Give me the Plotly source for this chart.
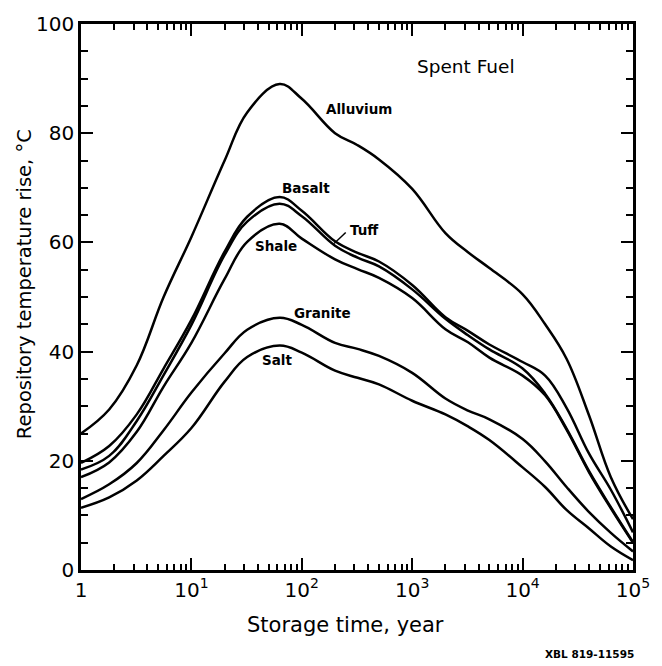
import math
import plotly.graph_objects as go

# Storage time (years), log axis
years = [1, 1.8, 3.2, 5.6, 10, 20, 32, 63, 100, 200, 320, 500,
         1000, 2000, 3200, 5000, 10000, 16000, 25000, 40000, 63000, 100000]

alluvium = [25, 29.4, 37.5, 50, 61, 75, 83.8, 89, 86.3, 80, 77.8, 75.2,
            69.8, 61.7, 58.2, 55.3, 50.5, 45, 38.7, 28.3, 17, 9.3]
basalt = [19.6, 22.7, 28.5, 36.9, 45.8, 58.3, 64.7, 68.3, 65.8, 60.2, 58.1, 56.5,
          52.2, 46.3, 43.8, 41.3, 38.1, 35.6, 29.7, 21.3, 14.7, 6.9]
tuff = [18.4, 20.9, 27.3, 35.7, 44.9, 57.7, 63.8, 67.1, 64.8, 59.4, 57.2, 55.6,
        51.4, 46.0, 43.0, 40.4, 36.9, 32.3, 25.9, 18.1, 11.5, 5.1]
shale = [17, 19.7, 25.3, 33.6, 41.6, 53.3, 60.1, 63.4, 60.7, 56.9, 55.1, 53.5,
         49.8, 44.1, 41.7, 38.9, 35.6, 32.0, 25.7, 17.9, 11.3, 5.0]
granite = [13, 15.7, 19.6, 25.6, 32.5, 39.7, 44, 46.2, 44.9, 41.6, 40.5, 39.2,
           36.1, 31.4, 29.2, 27.6, 24.0, 19.9, 15.2, 10.6, 6.8, 3.4]
salt = [11.4, 13.3, 16.4, 20.9, 26, 34.5, 39, 41.1, 39.8, 36.5, 35.2, 34,
        31, 28.5, 26.3, 23.8, 18.8, 15.2, 11, 7.6, 4.3, 1.8]

series = [("Alluvium", alluvium), ("Basalt", basalt), ("Tuff", tuff),
          ("Shale", shale), ("Granite", granite), ("Salt", salt)]

# curve labels: (text, x in years, y value)
labels = [("Alluvium", 330, 84.5), ("Basalt", 110, 69.9), ("Shale", 58, 59.3),
          ("Granite", 155, 47.0), ("Salt", 59, 38.4), ("Tuff", 370, 62.3)]

x_tickvals = [1, 10, 100, 1000, 10000, 100000]
x_ticktext = ["1", "10<sup>1</sup>", "10<sup>2</sup>", "10<sup>3</sup>",
              "10<sup>4</sup>", "10<sup>5</sup>"]
x_minor_ticks = [2, 3, 4, 5, 6, 7, 8, 9,
                 20, 30, 40, 50, 60, 70, 80, 90,
                 200, 300, 400, 500, 600, 700, 800, 900,
                 2000, 3000, 4000, 5000, 6000, 7000, 8000, 9000,
                 20000, 30000, 40000, 50000, 60000, 70000, 80000, 90000]
y_tickvals = [0, 20, 40, 60, 80, 100]
y_minor_ticks = [5, 10, 15, 25, 30, 35, 45, 50, 55, 65, 70, 75, 85, 90, 95]

FONT = "DejaVu Sans"

fig = go.Figure()
for name, vals in series:
    fig.add_trace(go.Scatter(x=years, y=vals, mode="lines", name=name,
                             line=dict(color="black", width=2.5, shape="spline",
                                       smoothing=1.1),
                             showlegend=False, hoverinfo="skip"))

# Tuff pointer line
fig.add_trace(go.Scatter(x=[196, 250], y=[59.8, 61.8], mode="lines",
                         line=dict(color="black", width=1.5),
                         showlegend=False, hoverinfo="skip"))

for text, xv, yv in labels:
    fig.add_annotation(x=math.log10(xv), y=yv, xref="x", yref="y",
                       text="<b>" + text + "</b>", showarrow=False,
                       font=dict(family=FONT, size=13.5, color="black"),
                       xanchor="center", yanchor="middle")

fig.add_annotation(x=math.log10(3100), y=92.3, xref="x", yref="y", text="Spent Fuel",
                   showarrow=False, xanchor="center", yanchor="middle",
                   font=dict(family=FONT, size=18.5, color="black"))

fig.add_annotation(x=0.479, y=-0.101, xref="paper", yref="paper",
                   text="Storage time, year", showarrow=False,
                   xanchor="center", yanchor="middle",
                   font=dict(family=FONT, size=21, color="black"))
fig.add_annotation(x=-0.101, y=0.524, xref="paper", yref="paper",
                   text="Repository temperature rise, °C", showarrow=False,
                   textangle=-90, xanchor="center", yanchor="middle",
                   font=dict(family=FONT, size=19.5, color="black"))
fig.add_annotation(x=0.922, y=-0.153, xref="paper", yref="paper",
                   text="<b>XBL 819-11595</b>", showarrow=False,
                   xanchor="center", yanchor="middle",
                   font=dict(family=FONT, size=10.5, color="black"))

fig.update_layout(
    xaxis=dict(type="log", range=[0, 5], tickmode="array",
               tickvals=x_tickvals, ticktext=x_ticktext,
               ticks="inside", ticklen=12, tickwidth=2, tickcolor="black",
               showline=True, linewidth=2.5, linecolor="black", mirror="allticks",
               showgrid=False, zeroline=False,
               tickfont=dict(family=FONT, size=20, color="black"),
               minor=dict(tickmode="array", tickvals=x_minor_ticks,
                          ticks="inside", ticklen=6, tickwidth=1.5,
                          tickcolor="black", showgrid=False)),
    yaxis=dict(range=[0, 100], tickmode="array", tickvals=y_tickvals,
               ticks="inside", ticklen=12, tickwidth=2, tickcolor="black",
               showline=True, linewidth=2.5, linecolor="black", mirror="allticks",
               showgrid=False, zeroline=False,
               tickfont=dict(family=FONT, size=20, color="black"),
               minor=dict(tickmode="array", tickvals=y_minor_ticks,
                          ticks="inside", ticklen=7, tickwidth=1.5,
                          tickcolor="black", showgrid=False)),
    width=662, height=666,
    margin=dict(l=81, r=21, t=15, b=96),
    paper_bgcolor="white", plot_bgcolor="white",
    font=dict(family=FONT, color="black"))

fig.write_html("out.html")
